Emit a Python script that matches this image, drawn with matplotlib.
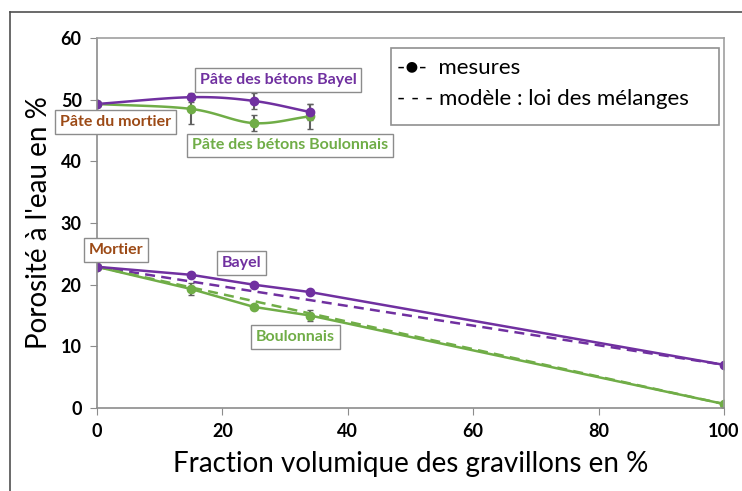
import numpy as np
import matplotlib.pyplot as plt
from matplotlib.lines import Line2D

plt.rcParams['font.family'] = ['Lato', 'DejaVu Sans']

# Mortar / concrete porosity vs gravel fraction
frac = [0, 15, 25, 34, 100]
bayel = [22.9, 21.6, 20.0, 18.8, 7.0]
boulonnais = [22.9, 19.3, 16.4, 15.0, 0.65]
bayel_err = [0, 0, 0, 0, 0]
boulonnais_err = [0, 1.0, 0, 0.9, 0]

# mixing-law model
model_frac = [0, 100]
bayel_model = [22.9, 7.0]
boulonnais_model = [22.9, 0.65]

# Paste porosity
paste_frac = [0, 15, 25, 34]
paste_bayel = [49.3, 50.4, 49.8, 48.0]
paste_boul = [49.3, 48.5, 46.2, 47.3]
paste_bayel_err = [0, 0.7, 1.3, 1.3]
paste_boul_err = [0, 2.4, 1.3, 2.0]

purple = '#7030A0'
green = '#70AD47'
brown = '#9C4A16'
gray = '#8C8C8C'


def smooth(x, y, n=30):
    # Catmull-Rom style curve through the points (like Excel smoothed lines)
    x = np.asarray(x, float)
    y = np.asarray(y, float)
    px = np.concatenate([[2 * x[0] - x[1]], x, [2 * x[-1] - x[-2]]])
    py = np.concatenate([[2 * y[0] - y[1]], y, [2 * y[-1] - y[-2]]])
    xs, ys = [], []
    t = np.linspace(0, 1, n)
    for i in range(1, len(px) - 2):
        for arr, out in ((px, xs), (py, ys)):
            p0, p1, p2, p3 = arr[i - 1], arr[i], arr[i + 1], arr[i + 2]
            out.extend(0.5 * ((2 * p1) + (-p0 + p2) * t
                              + (2 * p0 - 5 * p1 + 4 * p2 - p3) * t ** 2
                              + (-p0 + 3 * p1 - 3 * p2 + p3) * t ** 3))
    return xs, ys


fig = plt.figure(figsize=(7.42, 4.91), dpi=100)
ax = fig.add_axes([0.1307, 0.169, 0.845, 0.7536])

# model lines
ax.plot(model_frac, bayel_model, color=purple, lw=1.8, ls=(0, (4, 2.5)))
ax.plot(model_frac, boulonnais_model, color=green, lw=1.8, ls=(0, (4, 2.5)))

# measured lines
ax.errorbar(frac, boulonnais, yerr=boulonnais_err, color=green, lw=1.8,
            marker='o', ms=6, ecolor='#606060', elinewidth=1.5, capsize=2.5)
ax.errorbar(frac, bayel, yerr=bayel_err, color=purple, lw=1.8,
            marker='o', ms=6, ecolor='#606060', elinewidth=1.5, capsize=2.5)

# paste curves
sx, sy = smooth(paste_frac, paste_boul)
ax.plot(sx, sy, color=green, lw=1.8)
ax.errorbar(paste_frac, paste_boul, yerr=paste_boul_err, fmt='o', color=green,
            ms=6, ecolor='#606060', elinewidth=1.5, capsize=2.5)
sx, sy = smooth(paste_frac, paste_bayel)
ax.plot(sx, sy, color=purple, lw=1.8)
ax.errorbar(paste_frac, paste_bayel, yerr=paste_bayel_err, fmt='o', color=purple,
            ms=6, ecolor='#606060', elinewidth=1.5, capsize=2.5)

ax.set_xlim(0, 100)
ax.set_ylim(0, 60)
ax.set_xticks([0, 20, 40, 60, 80, 100])
ax.set_yticks([0, 10, 20, 30, 40, 50, 60])
ax.tick_params(direction='out', length=5, color=gray, labelsize=13, pad=6)
for lab in ax.get_xticklabels() + ax.get_yticklabels():
    lab.set_fontweight('bold')
for sp in ax.spines.values():
    sp.set_color(gray)
    sp.set_linewidth(1.2)
for sp in ('top', 'right'):
    ax.spines[sp].set_color('#A0A0A0')

ax.set_xlabel('Fraction volumique des gravillons en %', fontsize=20, labelpad=8)
ax.set_ylabel("Porosité à l'eau en %", fontsize=20, labelpad=6)

# labels in boxes
box = dict(boxstyle='square,pad=0.3', fc='white', ec=gray, lw=1)
lbl = dict(fontsize=11.5, fontweight='bold', ha='center', va='center',
           bbox=box, clip_on=False)
ax.text(28.9, 53.2, 'Pâte des bétons Bayel', color=purple, **lbl)
ax.text(3.0, 46.4, 'Pâte du mortier', color=brown, **lbl)
ax.text(30.8, 42.6, 'Pâte des bétons Boulonnais', color=green, **lbl)
ax.text(3.0, 25.6, 'Mortier', color=brown, **lbl)
ax.text(23.0, 23.5, 'Bayel', color=purple, **lbl)
ax.text(31.7, 11.5, 'Boulonnais', color=green, **lbl)

# legend drawn as a text box
lx0, lx1 = 391 / 742, 719 / 742
ly0, ly1 = 1 - 125 / 491, 1 - 48 / 491
fig.patches.append(plt.Rectangle((lx0, ly0), lx1 - lx0, ly1 - ly0,
                                 transform=fig.transFigure, fc='white',
                                 ec='#909090', lw=1.2, zorder=5))
fig.text(397 / 742, 1 - 68 / 491, '-●-  mesures', fontsize=16,
         va='center', ha='left', zorder=6)
fig.text(397 / 742, 1 - 99 / 491, '- - - modèle : loi des mélanges',
         fontsize=16, va='center', ha='left', zorder=6)

# outer frame of the picture
fig.add_artist(Line2D([10 / 742, 10 / 742], [0, 1 - 12 / 491],
                      color='#505050', lw=1.2))
fig.add_artist(Line2D([10 / 742, 1], [1 - 12 / 491, 1 - 12 / 491],
                      color='#505050', lw=1.2))

plt.savefig('out.png', dpi=100)
